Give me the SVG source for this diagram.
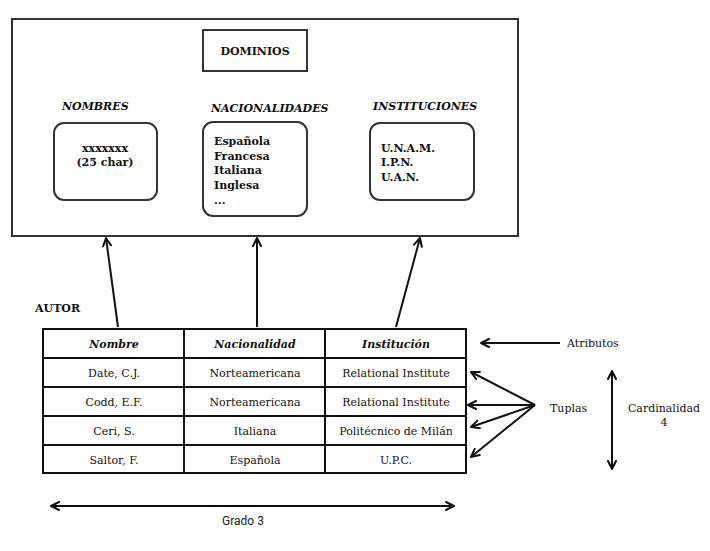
<svg xmlns="http://www.w3.org/2000/svg" width="710" height="551" viewBox="0 0 710 551">
<defs>
<marker id="ah" viewBox="0 0 10 10" refX="9" refY="5" markerWidth="10" markerHeight="10" markerUnits="userSpaceOnUse" orient="auto-start-reverse">
<path d="M1,1 L9,5 L1,9" fill="none" stroke="#111" stroke-width="2" stroke-linecap="round" stroke-linejoin="round"/>
</marker>
<style>
.box{fill:#fff;stroke:#333;stroke-width:2}
.rbox{fill:#fff;stroke:#333;stroke-width:2}
.t{font-family:"DejaVu Serif","Liberation Serif",serif;font-size:11px;fill:#111}
.b{font-weight:bold}
.i{font-style:italic}
.c{text-anchor:middle}
.s{font-family:Roboto,"Liberation Sans",sans-serif;font-size:12px;fill:#222}
.ln{stroke:#111;stroke-width:2;fill:none}
.grid{stroke:#111;stroke-width:2;fill:none}
</style>
</defs>
<rect width="710" height="551" fill="#fff"/>
<g id="dominios-frame">
<rect class="box" x="12" y="19" width="506" height="217"/>
</g>
<g id="dominios">
<rect class="box" x="203" y="30" width="104" height="41"/>
<text class="t c b" x="255" y="55">DOMINIOS</text>
</g>
<g id="nombres">
<text class="t b i" x="62" y="110">NOMBRES</text>
<rect class="rbox" x="54" y="123" width="103" height="77" rx="10"/>
<text class="t b c" x="105" y="152">xxxxxxx</text>
<text class="t b c" x="105" y="166">(25 char)</text>
</g>
<g id="nacionalidades">
<text class="t b i" x="211" y="112">NACIONALIDADES</text>
<rect class="rbox" x="203" y="122" width="104" height="94" rx="10"/>
<text class="t b" x="214" y="145">Española</text>
<text class="t b" x="214" y="160">Francesa</text>
<text class="t b" x="214" y="174">Italiana</text>
<text class="t b" x="214" y="189">Inglesa</text>
<text class="t b" x="214" y="204">...</text>
</g>
<g id="instituciones">
<text class="t b i" x="373" y="110">INSTITUCIONES</text>
<rect class="rbox" x="370" y="123" width="104" height="77" rx="10"/>
<text class="t b" x="381" y="152">U.N.A.M.</text>
<text class="t b" x="381" y="166">I.P.N.</text>
<text class="t b" x="381" y="181">U.A.N.</text>
</g>
<g id="autor">
<text class="t b" x="35" y="312">AUTOR</text>
<rect class="grid" x="43" y="329" width="423" height="144" fill="#fff"/>
<line class="grid" x1="184" y1="329" x2="184" y2="473"/>
<line class="grid" x1="325" y1="329" x2="325" y2="473"/>
<line class="grid" x1="43" y1="358" x2="466" y2="358"/>
<line class="grid" x1="43" y1="387" x2="466" y2="387"/>
<line class="grid" x1="43" y1="416" x2="466" y2="416"/>
<line class="grid" x1="43" y1="445" x2="466" y2="445"/>
<text class="t b i c" x="114" y="348">Nombre</text>
<text class="t b i c" x="255" y="348">Nacionalidad</text>
<text class="t b i c" x="396" y="348">Institución</text>
<text class="t c" x="114" y="377">Date, C.J.</text>
<text class="t c" x="255" y="377">Norteamericana</text>
<text class="t c" x="396" y="377">Relational Institute</text>
<text class="t c" x="114" y="406">Codd, E.F.</text>
<text class="t c" x="255" y="406">Norteamericana</text>
<text class="t c" x="396" y="406">Relational Institute</text>
<text class="t c" x="114" y="435">Ceri, S.</text>
<text class="t c" x="255" y="435">Italiana</text>
<text class="t c" x="396" y="435">Politécnico de Milán</text>
<text class="t c" x="114" y="464">Saltor, F.</text>
<text class="t c" x="255" y="464">Española</text>
<text class="t c" x="396" y="464">U.P.C.</text>
</g>
<g id="labels">
<text class="t" x="567" y="347">Atributos</text>
<text class="t" x="550" y="412">Tuplas</text>
<text class="t c" x="664" y="412">Cardinalidad</text>
<text class="t c" x="664" y="426">4</text>
<text class="s c" x="243" y="525">Grado 3</text>
</g>
<g id="connectors">
<line class="ln" x1="118" y1="327" x2="106" y2="238" marker-end="url(#ah)"/>
<line class="ln" x1="257" y1="327" x2="257" y2="238" marker-end="url(#ah)"/>
<line class="ln" x1="396" y1="327" x2="420" y2="238" marker-end="url(#ah)"/>
<line class="ln" x1="560" y1="343" x2="481" y2="343" marker-end="url(#ah)"/>
<line class="ln" x1="535" y1="405" x2="471" y2="372" marker-end="url(#ah)"/>
<line class="ln" x1="535" y1="405" x2="468" y2="405" marker-end="url(#ah)"/>
<line class="ln" x1="535" y1="405" x2="471" y2="427" marker-end="url(#ah)"/>
<line class="ln" x1="535" y1="405" x2="471" y2="457" marker-end="url(#ah)"/>
<line class="ln" x1="612" y1="371" x2="612" y2="469" marker-start="url(#ah)" marker-end="url(#ah)"/>
<line class="ln" x1="51" y1="506" x2="454" y2="506" marker-start="url(#ah)" marker-end="url(#ah)"/>
</g>
</svg>
